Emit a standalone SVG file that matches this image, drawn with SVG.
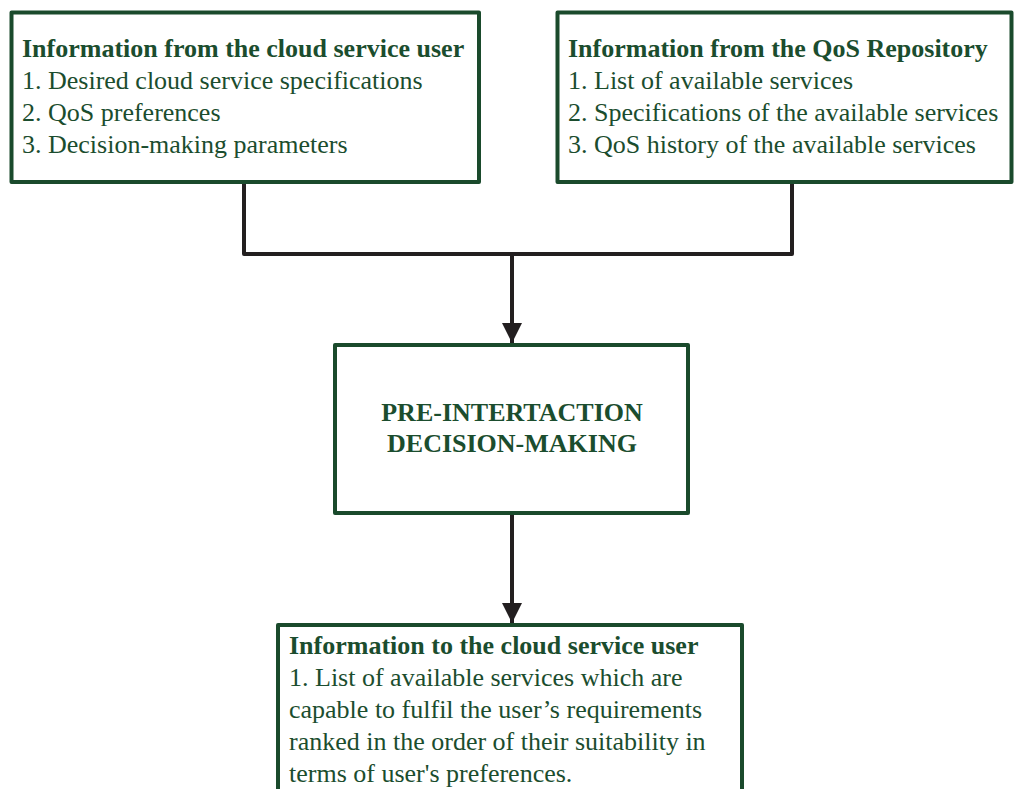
<svg xmlns="http://www.w3.org/2000/svg" width="1014" height="789" viewBox="0 0 1014 789">
  <style>
    .box { fill: #ffffff; stroke: #1a4a2c; stroke-width: 4; stroke-linejoin: round; }
    .wire { fill: none; stroke: #231f20; stroke-width: 4; stroke-linejoin: round; }
    text { font-family: "Liberation Serif", "Times New Roman", serif; fill: #1b4d2e; font-size: 26px; }
    .head { font-weight: bold; }
  </style>
  <defs>
    <marker id="arrow" markerUnits="userSpaceOnUse" markerWidth="22" markerHeight="22" refX="20" refY="10" orient="auto">
      <path d="M0,0 L20,10 L0,20 Z" fill="#231f20"/>
    </marker>
  </defs>
  <rect width="1014" height="789" fill="#ffffff"/>

  <g id="connectors">
    <path class="wire" d="M244,182 V254 H792 V182"/>
    <path class="wire" d="M512,254 V343" marker-end="url(#arrow)"/>
    <path class="wire" d="M512,513 V623" marker-end="url(#arrow)"/>
  </g>

  <g id="user-input">
    <rect class="box" x="11.5" y="12.5" width="467.5" height="169.5"/>
    <text class="head" x="22" y="57">Information from the cloud service user</text>
    <text x="22" y="89">1. Desired cloud service specifications</text>
    <text x="22" y="121">2. QoS preferences</text>
    <text x="22" y="153">3. Decision-making parameters</text>
  </g>

  <g id="qos-repository">
    <rect class="box" x="557.5" y="12.5" width="454" height="169.5"/>
    <text class="head" x="568" y="57">Information from the QoS Repository</text>
    <text x="568" y="89">1. List of available services</text>
    <text x="568" y="121">2. Specifications of the available services</text>
    <text x="568" y="153">3. QoS history of the available services</text>
  </g>

  <g id="decision-making">
    <rect class="box" x="335" y="345" width="353" height="168"/>
    <text class="head" x="512" y="421" text-anchor="middle">PRE-INTERTACTION</text>
    <text class="head" x="512" y="452" text-anchor="middle">DECISION-MAKING</text>
  </g>

  <g id="user-output">
    <rect class="box" x="278" y="625" width="464" height="200"/>
    <text class="head" x="289" y="654">Information to the cloud service user</text>
    <text x="289" y="686">1. List of available services which are</text>
    <text x="289" y="718">capable to fulfil the user’s requirements</text>
    <text x="289" y="750">ranked in the order of their suitability in</text>
    <text x="289" y="782">terms of user's preferences.</text>
  </g>
</svg>
